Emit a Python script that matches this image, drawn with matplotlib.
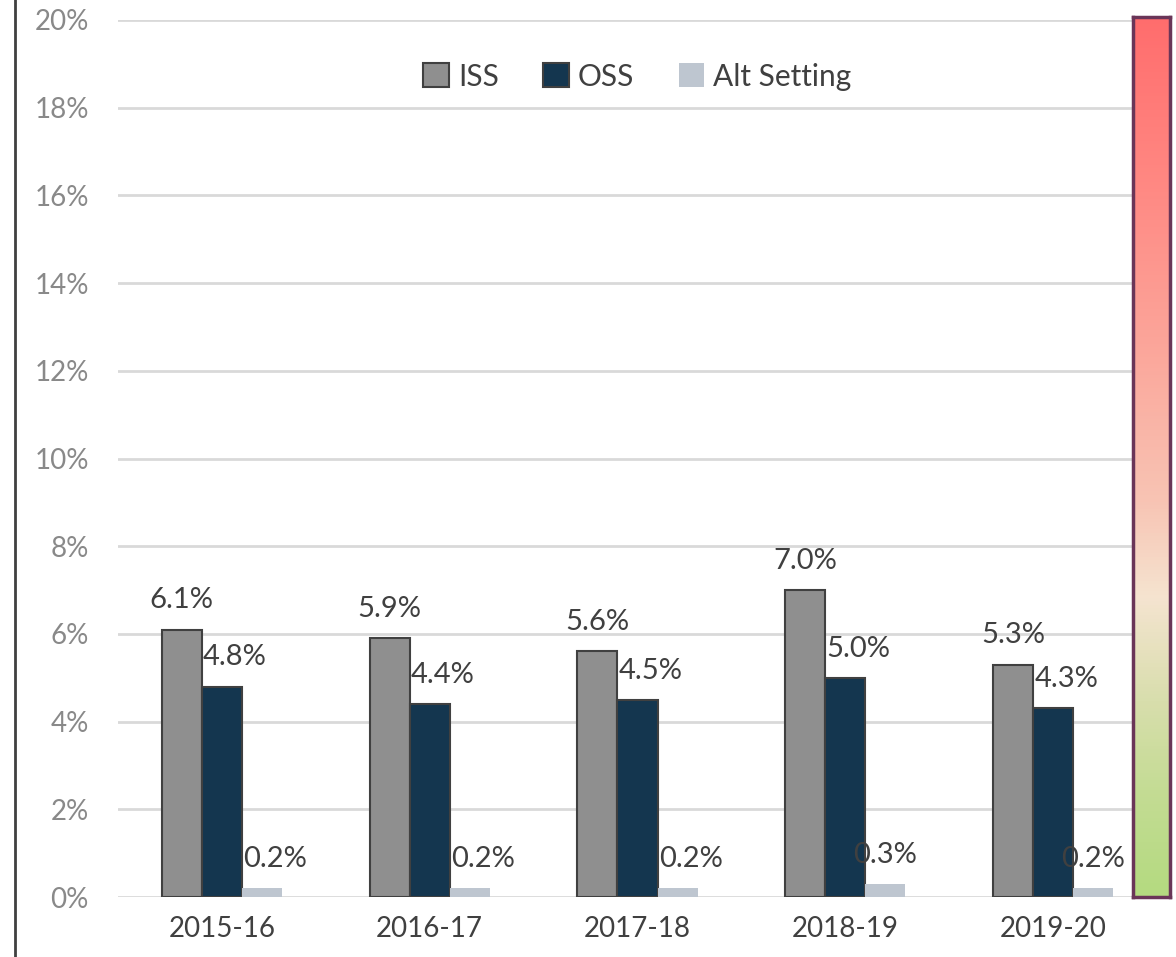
import matplotlib
import matplotlib.pyplot as plt
import numpy as np
from matplotlib.colors import LinearSegmentedColormap
from matplotlib.lines import Line2D

matplotlib.use("Agg")

plt.rcParams["font.family"] = ["Lato", "DejaVu Sans"]

years = ["2015-16", "2016-17", "2017-18", "2018-19", "2019-20"]
iss = [6.1, 5.9, 5.6, 7.0, 5.3]
oss = [4.8, 4.4, 4.5, 5.0, 4.3]
alt = [0.2, 0.2, 0.2, 0.3, 0.2]
yticks = [0, 2, 4, 6, 8, 10, 12, 14, 16, 18, 20]

# label nudges (points) to the right of each bar centre
oss_dx = [9.5, 9.5, 9.5, 9.5, 9.5]
alt_dx = [9.5, 9.5, 9.5, 0, 0]

W, H = 1176, 957
fig = plt.figure(figsize=(W / 100, H / 100), dpi=100)
ax = fig.add_axes([118 / W, 1 - 897 / H, (1157 - 118) / W, 877 / H])

x = np.arange(len(years))
w = 0.193
dark = "#404040"

ax.bar(x - w, iss, w, color="#8F8F8F", edgecolor=dark, linewidth=1.5, label="ISS", zorder=3)
ax.bar(x, oss, w, color="#14364F", edgecolor=dark, linewidth=1.5, label="OSS", zorder=3)
ax.bar(x + w, alt, w, color="#BEC6D0", linewidth=0, label="Alt Setting", zorder=3)

lab_kw = dict(textcoords="offset points", ha="center", va="center", fontsize=21, color=dark)
for i in range(len(years)):
    ax.annotate(f"{iss[i]:.1f}%", (x[i] - w, iss[i]), xytext=(0, 21), **lab_kw)
    ax.annotate(f"{oss[i]:.1f}%", (x[i], oss[i]), xytext=(oss_dx[i], 21), **lab_kw)
    ax.annotate(f"{alt[i]:.1f}%", (x[i] + w, alt[i]), xytext=(alt_dx[i], 21), **lab_kw)

ax.set_xlim(-0.5, 4.5)
ax.set_ylim(0, 20)
ax.set_yticks(yticks)
ax.set_yticklabels([f"{t}%" for t in yticks])
ax.set_xticks(x)
ax.set_xticklabels(years)
ax.tick_params(axis="y", length=0, pad=21, labelsize=20, labelcolor="#898989")
ax.tick_params(axis="x", length=0, pad=14, labelsize=20, labelcolor=dark)
ax.grid(axis="y", color="#D9D9D9", linewidth=2, zorder=0)
for s in ax.spines.values():
    s.set_visible(False)

ax.legend(loc="upper center", bbox_to_anchor=(0.5, 0.982), ncol=3, frameon=False,
          fontsize=21.5, handlelength=0.85, handleheight=0.85, handletextpad=0.3,
          columnspacing=1.5, labelcolor=dark)

# thin dark rule down the left edge
fig.add_artist(Line2D([14.5 / W, 14.5 / W], [0, 1], color=dark, linewidth=2))

# red-to-green scale strip on the right
cax = fig.add_axes([1133 / W, 1 - 897 / H, 37 / W, 880 / H])
cmap = LinearSegmentedColormap.from_list("scale", [
    (0.0, "#B4DA80"), (0.12, "#C4DC94"), (0.22, "#D8DEAC"), (0.34, "#F5E4D0"),
    (0.45, "#F8C4B4"), (0.6, "#FBAA9E"), (0.8, "#FF8A84"), (1.0, "#FF6D6D")])
cax.imshow(np.linspace(0, 1, 256).reshape(-1, 1), cmap=cmap, aspect="auto", origin="lower")
cax.set_xticks([])
cax.set_yticks([])
for s in cax.spines.values():
    s.set_color("#6A3558")
    s.set_linewidth(2.5)

fig.savefig("out.png", dpi=100)
